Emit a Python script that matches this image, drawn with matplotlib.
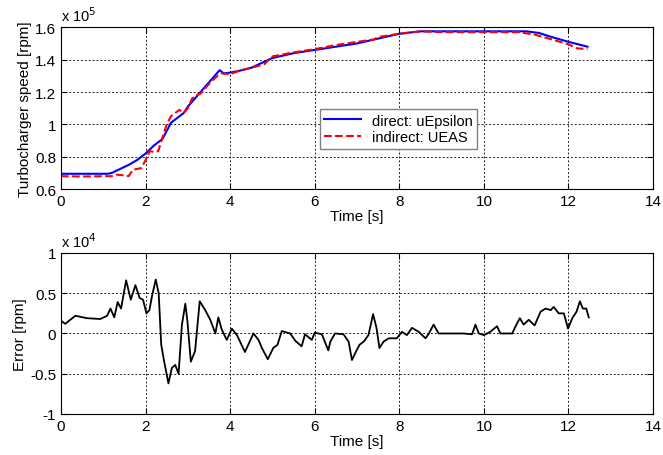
import numpy as np
import matplotlib.pyplot as plt
from matplotlib.ticker import FormatStrFormatter

plt.rcParams['font.family'] = ['Liberation Sans', 'DejaVu Sans']

# turbocharger speed [rpm]
t_direct = [0, 0.5, 1.1, 1.2, 1.4, 1.6, 1.8, 2.0, 2.2, 2.4, 2.5, 2.6, 2.8, 2.9, 3.0, 3.2,
            3.4, 3.6, 3.7, 3.75, 3.85, 4.0, 4.2, 4.5, 5.0, 5.5, 6.0, 6.5, 7.0, 7.5, 8.0,
            8.5, 9.0, 10.0, 11.0, 11.3, 11.6, 12.0, 12.3, 12.45]
v_direct = [69500, 69500, 69500, 70000, 72500, 75000, 78000, 82000, 87000, 91000, 96000,
            101000, 105000, 107000, 111000, 117000, 123000, 129000, 132000, 133500, 131500,
            132000, 133000, 135000, 141000, 144000, 146000, 148000, 150000, 153000, 156000,
            157500, 157500, 157500, 157500, 156500, 154000, 151000, 149000, 148000]

t_indirect = [0, 0.5, 1.1, 1.2, 1.3, 1.5, 1.6, 1.7, 1.9, 2.0, 2.1, 2.2, 2.3, 2.4, 2.5, 2.6,
              2.8, 2.9, 3.0, 3.1, 3.2, 3.3, 3.5, 3.7, 3.8, 4.0, 4.2, 4.5, 4.8, 5.0, 5.5, 6.0,
              6.5, 7.0, 7.4, 7.5, 8.0, 8.5, 9.0, 10.0, 10.8, 11.2, 11.6, 12.0, 12.2, 12.45]
v_indirect = [68000, 67800, 68000, 68000, 69000, 68500, 68000, 72000, 73000, 78000, 83500,
              83000, 83500, 92000, 100000, 105000, 109000, 107000, 110000, 116000, 118000,
              119000, 125000, 130000, 131500, 131000, 133000, 135000, 137000, 142000, 144500,
              146500, 149000, 151000, 152500, 154000, 156000, 157500, 157000, 157000, 157000,
              155500, 152500, 149500, 147000, 146500]

# error [rpm]
t_err = [0, 0.1, 0.34, 0.61, 0.93, 1.09, 1.17, 1.26, 1.34, 1.42, 1.54, 1.65, 1.76, 1.86,
         1.94, 2.02, 2.09, 2.15, 2.24, 2.31, 2.37, 2.44, 2.54, 2.62, 2.7, 2.78, 2.86, 2.94,
         2.99, 3.07, 3.17, 3.28, 3.41, 3.53, 3.65, 3.72, 3.8, 3.92, 4.04, 4.16, 4.35, 4.55,
         4.67, 4.75, 4.89, 5.02, 5.12, 5.22, 5.42, 5.54, 5.69, 5.77, 5.93, 6.0, 6.17, 6.32,
         6.37, 6.48, 6.68, 6.8, 6.88, 6.98, 7.06, 7.16, 7.27, 7.38, 7.46, 7.53, 7.63, 7.75,
         7.94, 8.06, 8.18, 8.3, 8.46, 8.62, 8.7, 8.81, 8.93, 9.52, 9.72, 9.8, 9.88, 10.0,
         10.15, 10.31, 10.39, 10.67, 10.75, 10.85, 10.94, 11.06, 11.2, 11.34, 11.46, 11.58,
         11.65, 11.77, 11.89, 11.99, 12.09, 12.19, 12.27, 12.34, 12.42, 12.48]
err = [1570, 1200, 2200, 1900, 1800, 2200, 3100, 2000, 3900, 3100, 6600, 4200, 6000, 4400,
       4200, 2500, 2900, 4600, 6700, 5000, -1400, -3500, -6200, -4300, -3900, -5000, 1100,
       3700, 1500, -3500, -2200, 4000, 2900, 1700, 0, 2000, 500, -800, 600, -200, -2300, 0,
       -800, -1800, -3200, -1800, -1400, 300, 0, -900, -1600, -100, -800, 100, -100, -2100,
       -1000, 0, -100, -1000, -3300, -2200, -1400, -1000, -200, 2400, 700, -1800, -1000,
       -600, -600, 200, -200, 700, 200, -600, 0, 1100, 0, 0, -100, 1100, 0, -200, 200, 900,
       0, 0, 900, 1900, 1100, 1700, 1000, 2700, 3100, 2900, 3300, 2500, 2500, 600, 1900,
       2700, 4000, 3100, 3100, 2000]

fig = plt.figure(figsize=(6.63, 4.56), dpi=100)
ax1 = fig.add_axes([0.092, 0.583, 0.893, 0.355])
ax2 = fig.add_axes([0.092, 0.090, 0.893, 0.353])

ax1.plot(t_direct, np.array(v_direct) / 1e5, '-', color='#0000ff', lw=1.5,
         label='direct: uEpsilon')
ax1.plot(t_indirect, np.array(v_indirect) / 1e5, '--', color='#ff0000', lw=1.5,
         label='indirect: UEAS')
ax1.set_ylim(0.6, 1.6)
ax1.set_yticks([0.6, 0.8, 1.0, 1.2, 1.4, 1.6])
ax1.set_ylabel('Turbocharger speed [rpm]', fontsize=11, labelpad=2)
ax1.text(0, 1.02, r'x 10$^5$', transform=ax1.transAxes, fontsize=10.5, va='bottom')
leg = ax1.legend(loc='upper left', bbox_to_anchor=(0.437, 0.494), borderaxespad=0,
                 fancybox=False, framealpha=1, edgecolor='#808080', fontsize=10.5,
                 handlelength=2.5, borderpad=0.3, labelspacing=0.2)

ax2.plot(t_err, np.array(err) / 1e4, '-k', lw=1.3)
ax2.set_ylim(-1, 1)
ax2.set_yticks([-1, -0.5, 0, 0.5, 1])
ax2.set_ylabel('Error [rpm]', fontsize=11, labelpad=2)
ax2.text(0, 1.02, r'x 10$^4$', transform=ax2.transAxes, fontsize=10.5, va='bottom')

for ax in (ax1, ax2):
    ax.set_xlim(0, 14)
    ax.set_xticks(range(0, 15, 2))
    ax.set_xlabel('Time [s]', fontsize=11, labelpad=1)
    ax.yaxis.set_major_formatter(FormatStrFormatter('%g'))
    ax.grid(True, color='#222222', linestyle=(0, (2, 2)), linewidth=0.7)
    ax.tick_params(direction='in', top=True, right=True, labelsize=11, length=4)
    for s in ax.spines.values():
        s.set_linewidth(0.8)

plt.savefig('out.png', dpi=100)
